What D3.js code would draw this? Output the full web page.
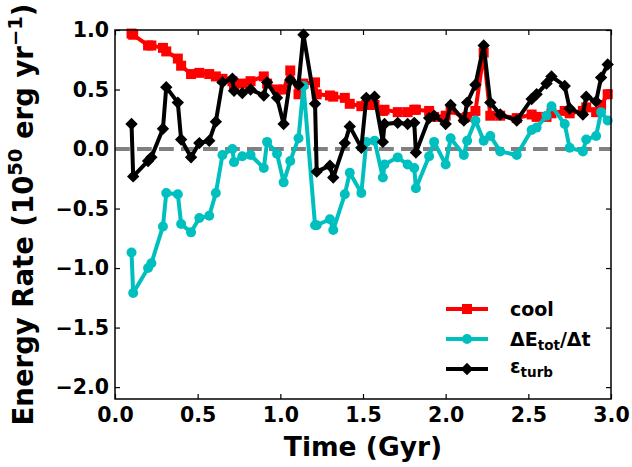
<!DOCTYPE html>
<html>
<head>
<meta charset="utf-8">
<script src="https://cdn.jsdelivr.net/npm/d3@7"></script>
<style>
  html, body { margin: 0; padding: 0; background: #ffffff; }
  svg { display: block; }
  text { font-family: "DejaVu Sans", sans-serif; font-weight: bold; }
</style>
</head>
<body>
<svg id="chart" width="632" height="467"></svg>
<script>
// Snapshot times (Gyr)
const times = [0.10, 0.11, 0.20, 0.22, 0.29, 0.31, 0.38, 0.40, 0.46, 0.51,
  0.57, 0.61, 0.65, 0.71, 0.72, 0.77, 0.82, 0.90, 0.92, 0.98,
  1.02, 1.06, 1.11, 1.14, 1.21, 1.22, 1.30, 1.32, 1.39, 1.42,
  1.49, 1.52, 1.57, 1.62, 1.63, 1.71, 1.77, 1.81, 1.82, 1.90,
  1.93, 2.00, 2.03, 2.11, 2.13, 2.18, 2.23, 2.27, 2.33, 2.43,
  2.52, 2.55, 2.61, 2.64, 2.72, 2.75, 2.83, 2.85, 2.91, 2.94, 2.98];

// Cooling rate (1e50 erg/yr)
const coolRate = [0.97, 0.96, 0.87, 0.87, 0.85, 0.82, 0.76, 0.70, 0.63, 0.64,
  0.63, 0.61, 0.59, 0.57, 0.54, 0.55, 0.57, 0.61, 0.55, 0.50,
  0.50, 0.66, 0.46, 0.55, 0.56, 0.46, 0.45, 0.44, 0.43, 0.38,
  0.36, 0.37, 0.37, 0.32, 0.33, 0.31, 0.31, 0.33, 0.33, 0.32,
  0.27, 0.28, 0.33, 0.26, 0.27, 0.32, 0.81, 0.28, 0.28, 0.26,
  0.29, 0.27, 0.27, 0.30, 0.32, 0.30, 0.32, 0.35, 0.31, 0.37, 0.46];

// Change of total energy per unit time
const dEtot = [-0.87, -1.21, -1.00, -0.96, -0.65, -0.37, -0.38, -0.63, -0.70, -0.58,
  -0.56, -0.37, -0.05, 0.00, -0.11, -0.06, -0.05, -0.16, 0.06, -0.04,
  -0.28, -0.10, 0.09, 0.53, -0.64, -0.64, -0.59, -0.68, -0.38, -0.20,
  -0.37, 0.06, 0.07, -0.24, -0.13, -0.07, -0.13, -0.16, -0.33, -0.06,
  0.06, -0.13, 0.09, -0.05, 0.07, 0.24, 0.07, 0.11, -0.02, -0.05,
  0.16, 0.18, 0.28, 0.36, 0.21, 0.01, -0.02, 0.08, 0.11, 0.31, 0.24];

// Turbulent dissipation rate
const epsTurb = [0.21, -0.23, -0.10, -0.07, 0.17, 0.52, 0.39, 0.08, -0.07, 0.05,
  0.07, 0.23, 0.56, 0.59, 0.49, 0.47, 0.50, 0.45, 0.56, 0.43,
  0.21, 0.58, 0.54, 0.96, 0.38, -0.19, -0.14, -0.24, 0.05, 0.19,
  0.01, 0.43, 0.44, 0.06, 0.21, 0.22, 0.21, 0.22, -0.03, 0.26,
  0.28, 0.21, 0.37, 0.24, 0.39, 0.54, 0.87, 0.39, 0.29, 0.24,
  0.42, 0.46, 0.55, 0.61, 0.53, 0.34, 0.29, 0.44, 0.40, 0.60, 0.71];

const xTicks = [0.0, 0.5, 1.0, 1.5, 2.0, 2.5, 3.0];
const yTicks = [-2.0, -1.5, -1.0, -0.5, 0.0, 0.5, 1.0];

const svg = d3.select("#chart");
const plotLeft = 115, plotRight = 611, plotTop = 30, plotBottom = 399;

const x = d3.scaleLinear().domain([0, 3]).range([plotLeft, plotRight]);
const y = d3.scaleLinear().domain([-2.1, 1.0]).range([plotBottom, plotTop]);
const fmt = d3.format(".1f");

// Axes with inward ticks on all four sides
const tickLen = 5;
const gx = svg.append("g").attr("transform", `translate(0,${plotBottom})`)
  .call(d3.axisBottom(x).tickValues(xTicks).tickFormat(fmt)
    .tickSizeInner(-tickLen).tickSizeOuter(0).tickPadding(8));
const gxTop = svg.append("g").attr("transform", `translate(0,${plotTop})`)
  .call(d3.axisTop(x).tickValues(xTicks).tickFormat("")
    .tickSizeInner(-tickLen).tickSizeOuter(0));
const gy = svg.append("g").attr("transform", `translate(${plotLeft},0)`)
  .call(d3.axisLeft(y).tickValues(yTicks).tickFormat(fmt)
    .tickSizeInner(-tickLen).tickSizeOuter(0).tickPadding(6));
const gyRight = svg.append("g").attr("transform", `translate(${plotRight},0)`)
  .call(d3.axisRight(y).tickValues(yTicks).tickFormat("")
    .tickSizeInner(-tickLen).tickSizeOuter(0));

[gx, gxTop, gy, gyRight].forEach(g => {
  g.select(".domain").remove();
  g.selectAll(".tick line").attr("stroke", "#000").attr("stroke-width", 1.2);
  g.selectAll(".tick text").attr("fill", "#000")
    .style("font-size", "20.5px").style("font-weight", "bold")
    .style("font-family", "'DejaVu Sans', sans-serif");
});

// Zero reference line
svg.append("line")
  .attr("x1", plotLeft).attr("x2", plotRight)
  .attr("y1", y(0)).attr("y2", y(0))
  .attr("stroke", "#808080").attr("stroke-width", 4)
  .attr("stroke-dasharray", "14.8 7.2");

const plot = svg.append("g");

function drawSeries(values, color, marker) {
  const pts = times.map((t, i) => [t, values[i]]);
  const line = d3.line().x(d => x(d[0])).y(d => y(d[1]));
  plot.append("path").datum(pts)
    .attr("d", line).attr("fill", "none")
    .attr("stroke", color).attr("stroke-width", 4)
    .attr("stroke-linejoin", "round");
  plot.append("g").selectAll("path").data(pts).join("path")
    .attr("transform", d => `translate(${x(d[0])},${y(d[1])})`)
    .attr("d", marker).attr("fill", color);
}

const squareMark = "M-5,-5H5V5H-5Z";
const circleMark = d3.symbol(d3.symbolCircle, 78)();
const diamondMark = "M0,-6.2L6.2,0L0,6.2L-6.2,0Z";

drawSeries(coolRate, "#ff0000", squareMark);
drawSeries(dEtot, "#00bfbf", circleMark);
drawSeries(epsTurb, "#000000", diamondMark);

// Frame
svg.append("rect")
  .attr("x", plotLeft).attr("y", plotTop)
  .attr("width", plotRight - plotLeft).attr("height", plotBottom - plotTop)
  .attr("fill", "none").attr("stroke", "#000").attr("stroke-width", 1.5);

// Legend
const legend = svg.append("g");
const legendRows = [
  { color: "#ff0000", marker: squareMark },
  { color: "#00bfbf", marker: circleMark },
  { color: "#000000", marker: diamondMark }
];
legendRows.forEach((r, i) => {
  const ly = 309 + i * 30;
  legend.append("line").attr("x1", 446).attr("x2", 488)
    .attr("y1", ly).attr("y2", ly)
    .attr("stroke", r.color).attr("stroke-width", 4);
  legend.append("path").attr("transform", `translate(467,${ly})`)
    .attr("d", r.marker).attr("fill", r.color);
});
const lx = 510;
legend.append("text").attr("x", lx).attr("y", 309 + 7)
  .style("font-size", "19px").text("cool");
const t2 = legend.append("text").attr("x", lx).attr("y", 339 + 7)
  .style("font-size", "19px");
t2.append("tspan").text("ΔE");
t2.append("tspan").attr("dy", 4).style("font-size", "13.5px").text("tot");
t2.append("tspan").attr("dy", -4).text("/Δt");
const t3 = legend.append("text").attr("x", lx).attr("y", 369 + 4)
  .style("font-size", "19px");
t3.append("tspan").text("ε");
t3.append("tspan").attr("dy", 4).style("font-size", "13.5px").text("turb");

// Axis titles
svg.append("text").attr("x", (plotLeft + plotRight) / 2).attr("y", 456)
  .attr("text-anchor", "middle").style("font-size", "26.5px")
  .text("Time (Gyr)");

const yl = svg.append("text")
  .attr("transform", `translate(33,${(plotTop + plotBottom) / 2}) rotate(-90)`)
  .attr("text-anchor", "middle").style("font-size", "27.5px");
yl.append("tspan").text("Energy Rate (10");
yl.append("tspan").attr("dy", -11).style("font-size", "19.5px").text("50");
yl.append("tspan").attr("dy", 11).text(" erg yr");
yl.append("tspan").attr("dy", -11).style("font-size", "19.5px").text("−1");
yl.append("tspan").attr("dy", 11).text(")");
</script>
</body>
</html>
